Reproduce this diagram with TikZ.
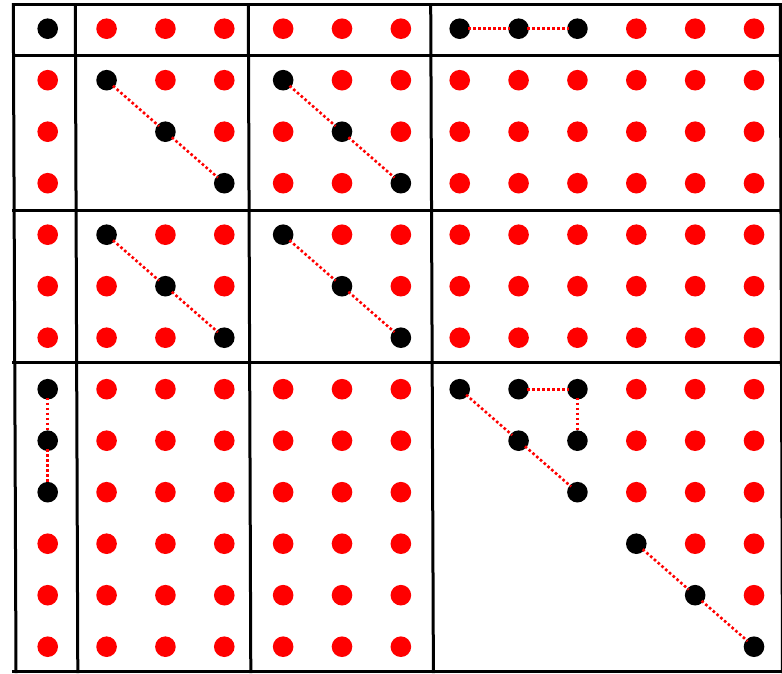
\documentclass[tikz,border=0pt]{standalone}
\begin{document}
\begin{tikzpicture}[x=1pt,y=-1pt,
  dotr/.style={circle,fill=red,draw=none,minimum size=20.6pt,inner sep=0pt},
  dotb/.style={circle,fill=black,draw=none,minimum size=20.6pt,inner sep=0pt},
  gridline/.style={line width=3pt,black},
  link/.style={red,line width=2.6pt,dash pattern=on 2.6pt off 2.4pt,
    shorten <=-2pt,shorten >=-2pt,yshift=-3pt}]
\useasboundingbox (0,0) rectangle (782,673);
% grid lines
\foreach \yy in {4.7,55.7,210.7,362.7,671.5}
  \draw[gridline] (11.8,\yy) -- (783,\yy);
\draw[gridline] (13.3,3.2) -- (16,673);
\draw[gridline] (75.3,3.2) -- (77.8,673);
\draw[gridline] (248.3,3.2) -- (250.8,673);
\draw[gridline] (430.7,3.2) -- (433.4,673);
\draw[gridline] (780.3,3.2) -- (782.5,673);
% dots
\foreach \row [count=\j from 0] in {
  {b,r,r,r,r,r,r,b,b,b,r,r,r},
  {r,b,r,r,b,r,r,r,r,r,r,r,r},
  {r,n,b,r,r,b,r,r,r,r,r,r,r},
  {r,n,n,b,r,r,b,r,r,r,r,r,r},
  {r,b,r,r,b,r,r,r,r,r,r,r,r},
  {r,r,b,r,n,b,r,r,r,r,r,r,r},
  {r,r,r,b,n,n,b,r,r,r,r,r,r},
  {b,r,r,r,r,r,r,b,b,b,r,r,r},
  {b,r,r,r,r,r,r,n,b,b,r,r,r},
  {b,r,r,r,r,r,r,n,n,b,r,r,r},
  {r,r,r,r,r,r,r,n,n,n,b,r,r},
  {r,r,r,r,r,r,r,n,n,n,n,b,r},
  {r,r,r,r,r,r,r,n,n,n,n,n,b}}{
  \foreach \c [count=\i from 0] in \row {
    \if\c n\else
      \node[dot\c] (d\i-\j) at ({47.7+58.86*\i},{28.7+51.5*\j}) {};
    \fi
  }
}
% connectors
\draw[link] (d7-0) -- (d8-0);
\draw[link] (d8-0) -- (d9-0);
\draw[link] (d1-1) -- (d2-2);
\draw[link] (d2-2) -- (d3-3);
\draw[link] (d4-1) -- (d5-2);
\draw[link] (d5-2) -- (d6-3);
\draw[link] (d1-4) -- (d2-5);
\draw[link] (d2-5) -- (d3-6);
\draw[link] (d4-4) -- (d5-5);
\draw[link] (d5-5) -- (d6-6);
\draw[link] (d0-7) -- (d0-8);
\draw[link] (d0-8) -- (d0-9);
\draw[link] (d7-7) -- (d8-8);
\draw[link] (d8-8) -- (d9-9);
\draw[link] (d8-7) -- (d9-7);
\draw[link] (d9-7) -- (d9-8);
\draw[link] (d10-10) -- (d11-11);
\draw[link] (d11-11) -- (d12-12);
\end{tikzpicture}
\end{document}
